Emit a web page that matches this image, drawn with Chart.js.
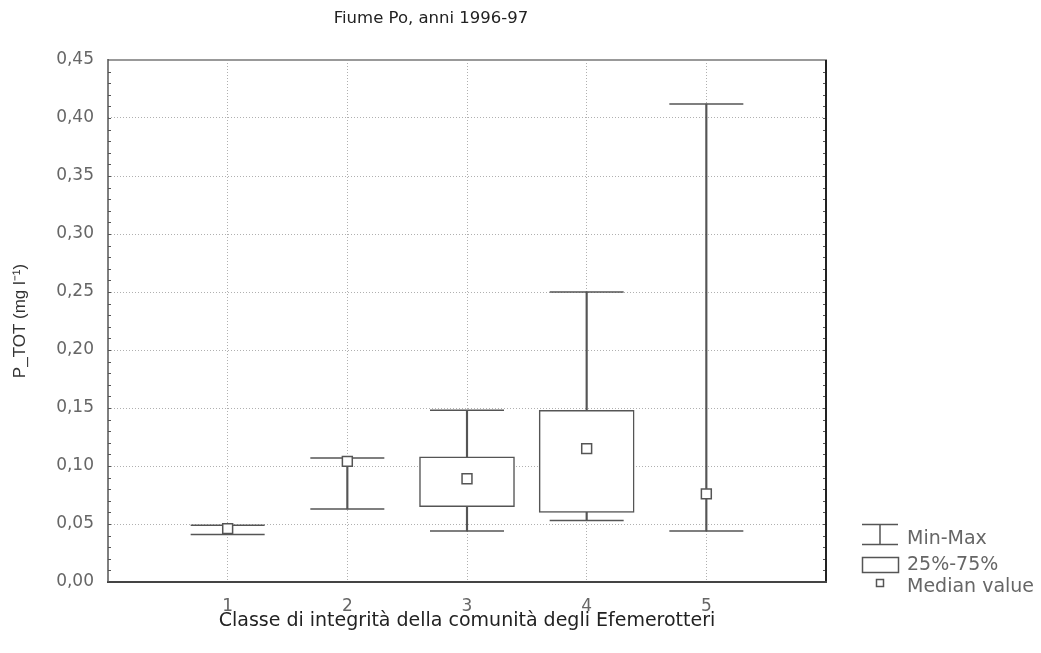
<!DOCTYPE html>
<html>
<head>
<meta charset="utf-8">
<title>Fiume Po, anni 1996-97</title>
<script src="https://cdn.jsdelivr.net/npm/chart.js@4.4.1/dist/chart.umd.min.js"></script>
<style>
  html, body { margin: 0; padding: 0; background: #fff; }
  #wrap { position: relative; width: 1041px; height: 653px; }
</style>
</head>
<body>
<div id="wrap"><canvas id="boxChart"></canvas></div>
<script>
// Integrity classes of the mayfly community
const classes = [1, 2, 3, 4, 5];
// P_TOT (mg/l) for each class
const minValues = [0.041, 0.063, 0.044, 0.053, 0.044];
const maxValues = [0.049, 0.107, 0.148, 0.250, 0.412];
const q25Values = [null, null, 0.065, 0.060, null];
const q75Values = [null, null, 0.108, 0.148, null];
const medianValues = [0.046, 0.104, 0.089, 0.115, 0.076];
const yTicks = [0, 0.05, 0.10, 0.15, 0.20, 0.25, 0.30, 0.35, 0.40, 0.45];
const legendLabels = ['Min-Max', '25%-75%', 'Median value'];

const LINE = '#555';
const TICK_FONT = { family: '"DejaVu Sans"', size: 17 };

// Frame, minor ticks, title and legend
const framePlugin = {
    id: 'frame',
    afterDraw(chart) {
        const { ctx, chartArea: a } = chart;
        const y = chart.scales.y;
        ctx.save();

        // minor ticks every 0.01 on both vertical axes
        ctx.strokeStyle = '#555';
        ctx.lineWidth = 1;
        for (let i = 1; i < 45; i++) {
            const py = Math.round(y.getPixelForValue(i / 100)) + 0.5;
            ctx.beginPath();
            ctx.moveTo(a.left, py);
            ctx.lineTo(a.left + 3, py);
            ctx.moveTo(a.right - 3, py);
            ctx.lineTo(a.right, py);
            ctx.stroke();
        }

        // plot frame
        const side = (color, w, x1, y1, x2, y2) => {
            ctx.strokeStyle = color;
            ctx.lineWidth = w;
            ctx.beginPath();
            ctx.moveTo(x1, y1);
            ctx.lineTo(x2, y2);
            ctx.stroke();
        };
        side('#999', 2, a.left, a.top, a.right + 1, a.top);
        side('#222', 2, a.right, a.top, a.right, a.bottom);
        side('#444', 2, a.left - 1, a.bottom, a.right + 1, a.bottom);
        side('#555', 1.5, a.left, a.top - 1, a.left, a.bottom);

        // title
        ctx.fillStyle = '#222';
        ctx.font = '16.5px "DejaVu Sans"';
        ctx.textAlign = 'center';
        ctx.textBaseline = 'middle';
        ctx.fillText('Fiume Po, anni 1996-97', 431, 19);

        // legend
        ctx.font = '19px "DejaVu Sans"';
        ctx.textAlign = 'left';
        ctx.fillStyle = '#666';
        ctx.strokeStyle = LINE;
        ctx.lineWidth = 1.5;
        ctx.beginPath();
        ctx.moveTo(862, 524.5); ctx.lineTo(898, 524.5);
        ctx.moveTo(880, 524.5); ctx.lineTo(880, 544.5);
        ctx.moveTo(862, 544.5); ctx.lineTo(898, 544.5);
        ctx.stroke();
        ctx.fillText(legendLabels[0], 907, 539);

        ctx.strokeRect(862.5, 557.5, 36, 15);
        ctx.fillText(legendLabels[1], 907, 565);

        ctx.strokeRect(876.5, 579.5, 7, 7);
        ctx.fillText(legendLabels[2], 907, 587);
        ctx.restore();
    }
};

const ctx = document.getElementById('boxChart').getContext('2d');

new Chart(ctx, {
    type: 'bar',
    data: {
        datasets: [{
            // whisker line, min to max
            type: 'bar',
            data: classes.map((c, i) => ({ x: c, y: [minValues[i], maxValues[i]] })),
            backgroundColor: LINE,
            borderWidth: 0,
            barThickness: 1.5,
            grouped: false,
            order: 4
        }, {
            // whisker caps
            type: 'scatter',
            data: classes.flatMap((c, i) => [{ x: c, y: minValues[i] }, { x: c, y: maxValues[i] }]),
            pointStyle: 'line',
            pointRadius: 37,
            pointHoverRadius: 37,
            borderColor: LINE,
            pointBorderWidth: 1.5,
            order: 3
        }, {
            // 25%-75% boxes
            type: 'bar',
            data: classes
                .map((c, i) => ({ x: c, y: [q25Values[i], q75Values[i]] }))
                .filter(d => d.y[0] !== null),
            backgroundColor: '#fff',
            borderColor: LINE,
            borderWidth: 1.5,
            borderSkipped: false,
            barThickness: 95,
            grouped: false,
            order: 2
        }, {
            // medians
            type: 'scatter',
            data: classes.map((c, i) => ({ x: c, y: medianValues[i] })),
            pointStyle: 'rect',
            pointRadius: 7,
            pointHoverRadius: 7,
            pointBackgroundColor: '#fff',
            pointBorderColor: LINE,
            pointBorderWidth: 1.5,
            order: 1
        }]
    },
    options: {
        responsive: true,
        maintainAspectRatio: false,
        animation: false,
        events: [],
        layout: { padding: { top: 60, right: 215, bottom: 0, left: 0 } },
        plugins: {
            legend: { display: false },
            tooltip: { enabled: false }
        },
        scales: {
            x: {
                type: 'linear',
                min: 0,
                max: 6,
                offset: false,
                afterBuildTicks: axis => { axis.ticks = classes.map(v => ({ value: v })); },
                afterFit: axis => { axis.height = 71; },
                grid: { color: '#b0b0b0', lineWidth: 1, drawTicks: false, offset: false },
                border: { display: false, dash: [1, 2] },
                ticks: {
                    padding: 14,
                    color: '#666',
                    font: TICK_FONT,
                    callback: v => String(v)
                },
                title: {
                    display: true,
                    text: 'Classe di integrità della comunità degli Efemerotteri',
                    color: '#222',
                    font: { family: '"DejaVu Sans"', size: 19 },
                    padding: { top: 0, bottom: 21 }
                }
            },
            y: {
                min: 0,
                max: 0.45,
                afterBuildTicks: axis => { axis.ticks = yTicks.map(v => ({ value: v })); },
                afterFit: axis => { axis.width = 108; },
                grid: {
                    color: c => (c.tick && (c.tick.value === 0 || c.tick.value > 0.449)) ? 'rgba(0,0,0,0)' : '#b0b0b0',
                    lineWidth: 1,
                    drawTicks: false
                },
                border: { display: false, dash: [1, 2] },
                ticks: {
                    padding: 14,
                    color: '#666',
                    font: TICK_FONT,
                    callback: v => v.toFixed(2).replace('.', ',')
                },
                title: {
                    display: true,
                    text: 'P_TOT (mg l⁻¹)',
                    color: '#333',
                    font: { family: '"Liberation Sans"', size: 17 },
                    padding: { top: 10, bottom: 0 }
                }
            }
        }
    },
    plugins: [framePlugin]
});
</script>
</body>
</html>
